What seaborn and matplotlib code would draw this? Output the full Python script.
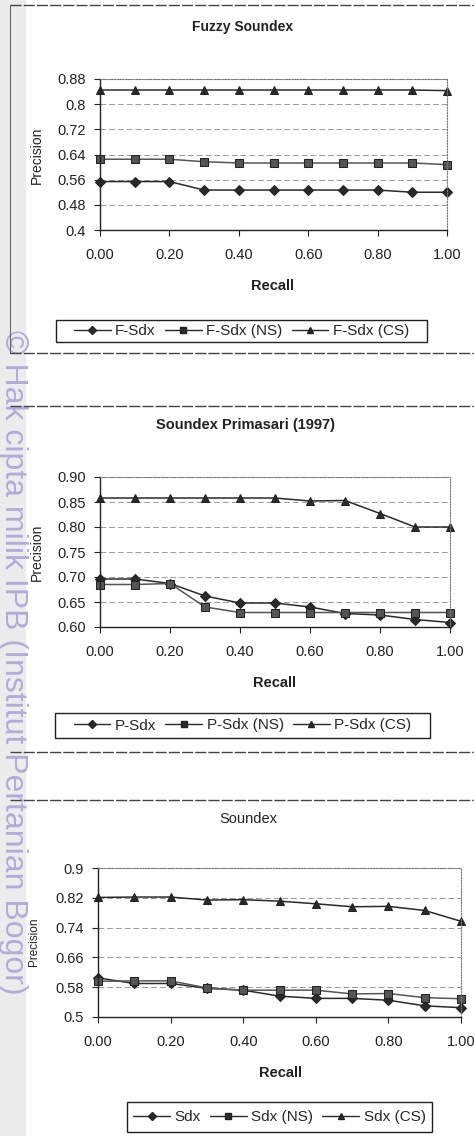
import numpy as np
import pandas as pd
import seaborn as sns
import matplotlib.pyplot as plt
from matplotlib.lines import Line2D
from matplotlib.patches import Rectangle

# recall levels (shared by all three charts)
recall = [0.0, 0.1, 0.2, 0.3, 0.4, 0.5, 0.6, 0.7, 0.8, 0.9, 1.0]
recall_ticks = [0.0, 0.2, 0.4, 0.6, 0.8, 1.0]
recall_labels = ['0.00', '0.20', '0.40', '0.60', '0.80', '1.00']

# Fuzzy Soundex
f_sdx = [0.554, 0.554, 0.554, 0.527, 0.527, 0.527, 0.527, 0.527, 0.527, 0.520, 0.520]
f_sdx_ns = [0.625, 0.625, 0.625, 0.617, 0.613, 0.613, 0.613, 0.613, 0.613, 0.613, 0.608]
f_sdx_cs = [0.845, 0.845, 0.845, 0.845, 0.845, 0.845, 0.845, 0.845, 0.845, 0.845, 0.843]
f_ticks = [0.4, 0.48, 0.56, 0.64, 0.72, 0.8, 0.88]
f_tick_labels = ['0.4', '0.48', '0.56', '0.64', '0.72', '0.8', '0.88']

# Soundex Primasari (1997)
p_sdx = [0.696, 0.696, 0.687, 0.662, 0.648, 0.648, 0.640, 0.627, 0.624, 0.615, 0.609]
p_sdx_ns = [0.685, 0.685, 0.687, 0.640, 0.629, 0.629, 0.629, 0.629, 0.629, 0.629, 0.629]
p_sdx_cs = [0.858, 0.858, 0.858, 0.858, 0.858, 0.858, 0.852, 0.853, 0.827, 0.800, 0.800]
p_ticks = [0.60, 0.65, 0.70, 0.75, 0.80, 0.85, 0.90]
p_tick_labels = ['0.60', '0.65', '0.70', '0.75', '0.80', '0.85', '0.90']

# Soundex
sdx = [0.605, 0.590, 0.590, 0.577, 0.572, 0.556, 0.550, 0.550, 0.545, 0.530, 0.525]
sdx_ns = [0.596, 0.597, 0.597, 0.578, 0.572, 0.572, 0.572, 0.562, 0.563, 0.552, 0.549]
sdx_cs = [0.821, 0.822, 0.822, 0.814, 0.815, 0.811, 0.804, 0.796, 0.797, 0.786, 0.757]
s_ticks = [0.5, 0.58, 0.66, 0.74, 0.82, 0.9]
s_tick_labels = ['0.5', '0.58', '0.66', '0.74', '0.82', '0.9']

sns.set_theme(style='white')
plt.rcParams['font.family'] = ['Liberation Sans', 'DejaVu Sans']

W, H = 474, 1136
fig = plt.figure(figsize=(W / 100, H / 100), dpi=100)
fig.patch.set_facecolor('white')


def fx(px):
  return px / W


def fy(py):
  return 1 - py / H


def hline(y, x0=10, x1=474, lw=1.0):
  fig.add_artist(Line2D([fx(x0), fx(x1)], [fy(y), fy(y)], color='#444',
                        lw=lw, linestyle=(0, (8, 1.5)), transform=fig.transFigure))


def make_panel(box, names, series, ticks, tick_labels, title, title_xy,
               title_kw, recall_xy, ylab_xy, ylab_size, leg_box):
  x0, y_top, x1, y_bot = box
  ax = fig.add_axes([fx(x0), fy(y_bot), fx(x1) - fx(x0), (y_bot - y_top) / H])
  df = pd.DataFrame({'recall': recall * 3,
                     'precision': series[0] + series[1] + series[2],
                     'method': [names[0]] * 11 + [names[1]] * 11 + [names[2]] * 11})
  sns.lineplot(data=df, x='recall', y='precision', hue='method', style='method',
               markers=['D', 's', '^'], dashes=False,
               palette=['#2a2a2a', '#555555', '#2a2a2a'],
               markersize=5.5, linewidth=1.1, markeredgecolor='#222',
               legend=False, ax=ax)
  for ln in ax.lines:
    ln.set_clip_on(False)
  ax.set_xlim(0, 1)
  ax.set_ylim(ticks[0], ticks[-1])
  ax.set_xticks(recall_ticks)
  ax.set_xticklabels(recall_labels, fontsize=10.5, color='#222')
  ax.set_yticks(ticks)
  ax.set_yticklabels(tick_labels, fontsize=10.5, color='#222')
  ax.set_xlabel('')
  ax.set_ylabel('')
  ax.tick_params(axis='x', direction='out', length=4, width=0.8, pad=9,
                 bottom=True, color='#222')
  ax.tick_params(axis='y', direction='out', length=4, width=0.8, pad=6,
                 left=True, color='#222')
  for t in ticks[1:]:
    ax.axhline(t, color='#999999', lw=0.7, linestyle=(0, (6, 3)), zorder=0)
  for side in ['left', 'bottom']:
    ax.spines[side].set_color('#222')
    ax.spines[side].set_linewidth(1.0)
  for side in ['top', 'right']:
    ax.spines[side].set_color('#777')
    ax.spines[side].set_linewidth(0.8)
    ax.spines[side].set_linestyle((0, (1, 1.5)))

  fig.text(fx(title_xy[0]), fy(title_xy[1]), title, ha='center', va='center',
           color='#222', **title_kw)
  fig.text(fx(recall_xy[0]), fy(recall_xy[1]), 'Recall', ha='center',
           va='center', fontsize=10.5, fontweight='bold', color='#222')
  fig.text(fx(ylab_xy[0]), fy(ylab_xy[1]), 'Precision', ha='center',
           va='center', rotation=90, fontsize=ylab_size, color='#222')

  handles = [Line2D([], [], color='#2a2a2a', marker=m, markersize=4.5,
                    lw=1.0, markeredgecolor='#222')
             for m in ['D', 's', '^']]
  lx0, ly0, lx1, ly1 = leg_box
  fig.add_artist(Rectangle((fx(lx0), fy(ly1)), fx(lx1) - fx(lx0),
                           (ly1 - ly0) / H, transform=fig.transFigure,
                           fill=False, edgecolor='#222', lw=1.0))
  fig.legend(handles, names, ncol=3, loc='center',
             bbox_to_anchor=(fx((lx0 + lx1) / 2), fy((ly0 + ly1) / 2)),
             frameon=False, fontsize=11, handlelength=2.4,
             handletextpad=0.3, columnspacing=0.6)
  return ax


# left grey margin with the watermark
fig.add_artist(Rectangle((0, 0), fx(25), 1, transform=fig.transFigure,
                         color='#ececec', zorder=0))
fig.text(fx(13), fy(662), '\u00a9 Hak cipta milik IPB (Institut Pertanian Bogor)',
         rotation=-90, ha='center', va='center', fontsize=23,
         color='#b3acd8', zorder=1)

# frame lines between the charts
hline(5)
fig.add_artist(Line2D([fx(10), fx(10)], [fy(5), fy(353)], color='#666', lw=0.8,
                      transform=fig.transFigure))
hline(353)
hline(406)
hline(752)
hline(800)

make_panel((100, 79, 447, 230), ['F-Sdx', 'F-Sdx (NS)', 'F-Sdx (CS)'],
           [f_sdx, f_sdx_ns, f_sdx_cs], f_ticks, f_tick_labels,
           'Fuzzy Soundex', (243, 27), dict(fontsize=10, fontweight='bold'),
           (273, 286), (37, 155), 10, (56, 320, 427, 342))

make_panel((100, 477, 450, 627), ['P-Sdx', 'P-Sdx (NS)', 'P-Sdx (CS)'],
           [p_sdx, p_sdx_ns, p_sdx_cs], p_ticks, p_tick_labels,
           'Soundex Primasari (1997)', (245, 425),
           dict(fontsize=10.5, fontweight='bold'),
           (275, 683), (37, 552), 10, (55, 713, 430, 738))

make_panel((98, 868, 461, 1017), ['Sdx', 'Sdx (NS)', 'Sdx (CS)'],
           [sdx, sdx_ns, sdx_cs], s_ticks, s_tick_labels,
           'Soundex', (248, 819), dict(fontsize=10.5),
           (280, 1073), (34, 942), 8.5, (127, 1102, 432, 1132))

fig.savefig('out.png', dpi=100)
